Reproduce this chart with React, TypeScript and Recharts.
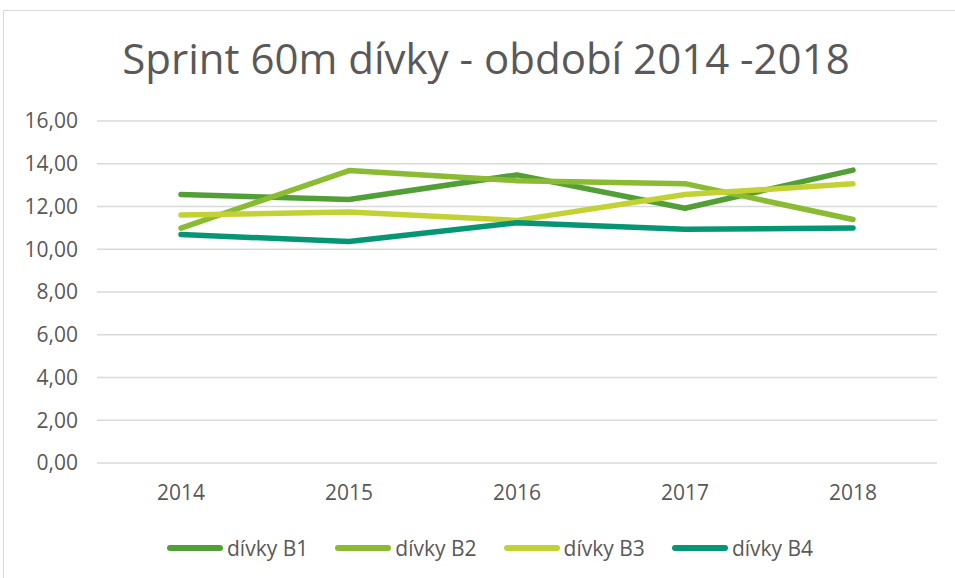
import React from "react";
import { LineChart, Line, CartesianGrid, XAxis, YAxis } from "recharts";

const years = ["2014", "2015", "2016", "2017", "2018"];
const seriesNames = ["dívky B1", "dívky B2", "dívky B3", "dívky B4"];
const b1 = [12.56, 12.33, 13.48, 11.92, 13.7];
const b2 = [10.99, 13.68, 13.21, 13.07, 11.39];
const b3 = [11.6, 11.74, 11.35, 12.56, 13.06];
const b4 = [10.69, 10.36, 11.24, 10.93, 10.99];
const yTicks = [0, 2, 4, 6, 8, 10, 12, 14, 16];

const colors = ["#529f37", "#8bba33", "#c2d236", "#069673"];
const keys = ["b1", "b2", "b3", "b4"];

const data = years.map((year, i) => ({
  year,
  b1: b1[i],
  b2: b2[i],
  b3: b3[i],
  b4: b4[i],
}));

const font = "'Open Sans', sans-serif";
const textColor = "#595959";

// legend drawn as html under the plot so it doesn't shrink the plot area
const ChartLegend = () => (
  <div style={{ position: "absolute", left: 167, top: 535, display: "flex" }}>
    {seriesNames.map((name, i) => (
      <div key={name} style={{ display: "flex", alignItems: "center", width: 168.3, height: 26 }}>
        <div
          style={{
            width: 56,
            height: 6,
            borderRadius: 3,
            background: colors[i],
            marginRight: 4,
          }}
        />
        <span style={{ fontFamily: font, fontSize: 21, color: textColor, lineHeight: "26px" }}>
          {name}
        </span>
      </div>
    ))}
  </div>
);

export default function App() {
  return (
    <div
      style={{
        position: "absolute",
        left: 0,
        top: 0,
        width: 955,
        height: 578,
        background: "#fff",
        overflow: "hidden",
      }}
    >
      <div
        style={{
          position: "absolute",
          left: 3,
          top: 10,
          width: 1000,
          height: 700,
          border: "1.5px solid #d9d9d9",
        }}
      />
      <div
        style={{
          position: "absolute",
          left: 0,
          top: 29,
          width: 972,
          textAlign: "center",
          fontFamily: font,
          fontSize: 42,
          color: textColor,
          whiteSpace: "nowrap",
        }}
      >
        Sprint 60m dívky - období 2014 -2018
      </div>
      <div style={{ position: "absolute", left: 0, top: 0 }}>
        <LineChart
          width={955}
          height={578}
          data={data}
          margin={{ top: 121, right: 18, bottom: 85, left: 0 }}
        >
          <CartesianGrid vertical={false} stroke="#d9d9d9" strokeWidth={1.5} />
          <XAxis
            dataKey="year"
            axisLine={false}
            tickLine={false}
            tickSize={0}
            tickMargin={22}
            height={30}
            padding={{ left: 84, right: 84 }}
            tick={{ fill: textColor, fontSize: 21, fontFamily: font }}
          />
          <YAxis
            domain={[0, 16]}
            ticks={yTicks}
            axisLine={false}
            tickLine={false}
            tickSize={0}
            tickMargin={19}
            width={97}
            tickFormatter={(v: number) => v.toFixed(2).replace(".", ",")}
            tick={{ fill: textColor, fontSize: 21, fontFamily: font }}
          />
          {keys.map((k, i) => (
            <Line
              key={k}
              dataKey={k}
              name={seriesNames[i]}
              stroke={colors[i]}
              strokeWidth={5.5}
              strokeLinecap="round"
              strokeLinejoin="round"
              dot={false}
              activeDot={false}
              isAnimationActive={false}
            />
          ))}
        </LineChart>
      </div>
      <ChartLegend />
    </div>
  );
}
